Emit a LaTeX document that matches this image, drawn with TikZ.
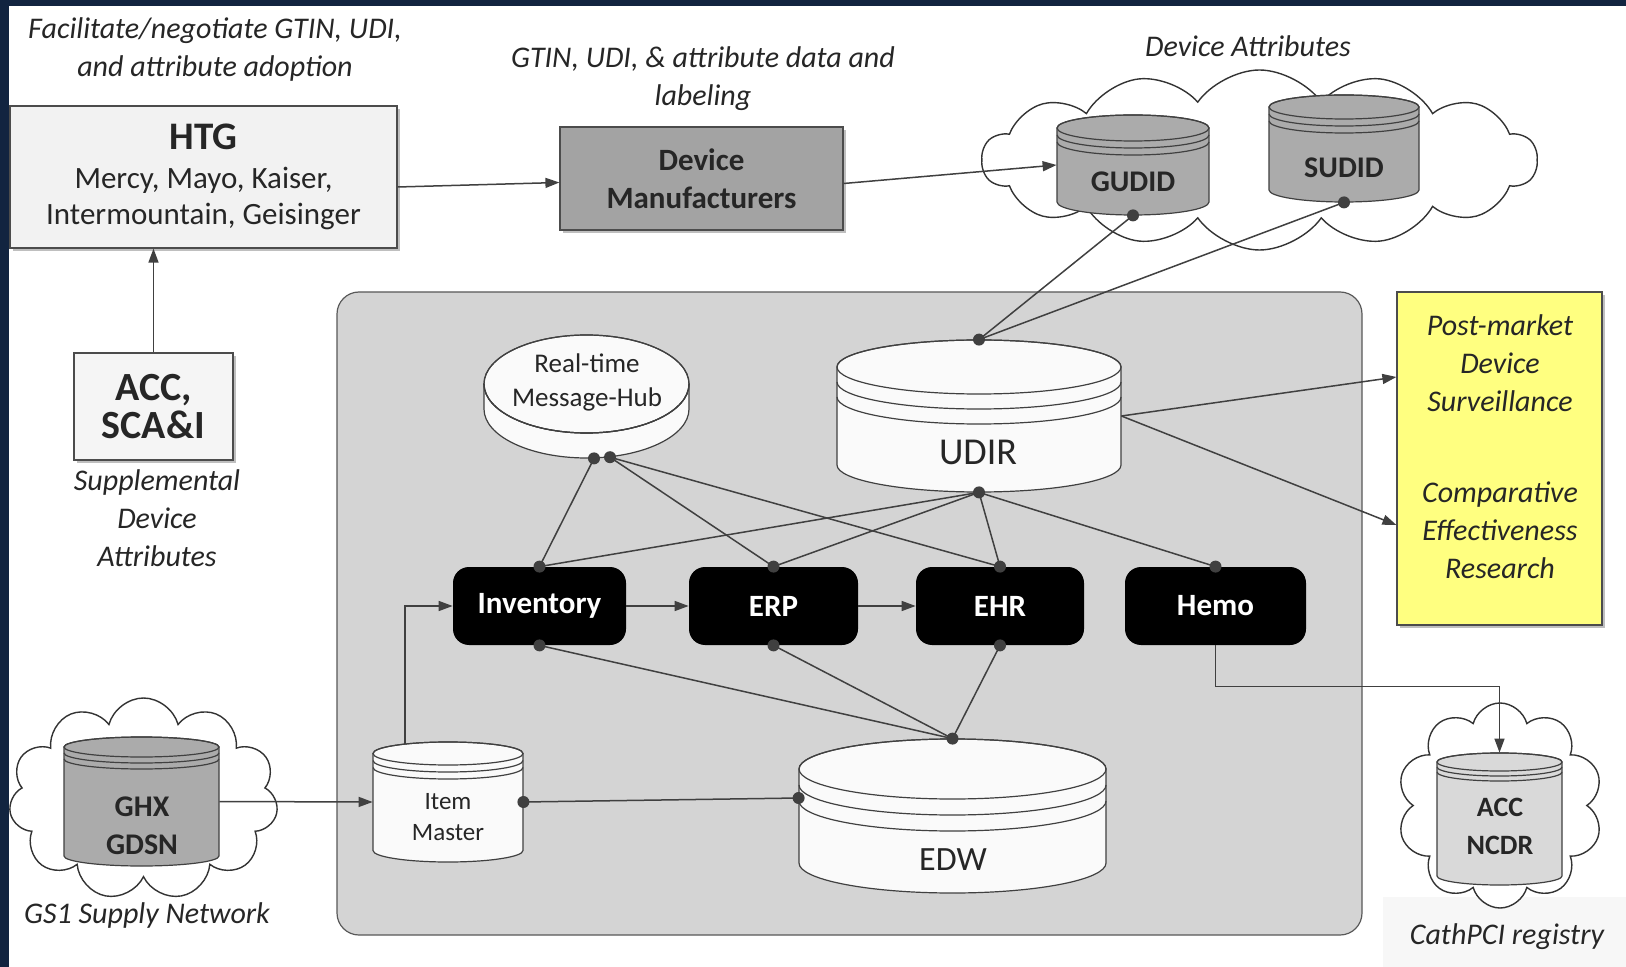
\documentclass[tikz,border=0pt]{standalone}
\usepackage{fontspec}
\setmainfont{Carlito}
\usetikzlibrary{arrows.meta,shapes.symbols,shadows,positioning,calc}

\definecolor{navy}{RGB}{18,36,64}
\definecolor{hospgray}{RGB}{212,212,212}
\definecolor{stickynote}{RGB}{255,255,128}
\definecolor{linec}{RGB}{64,64,64}

% database drum: name, cx, top y, half width, height, ry, band gap, fill
\newcommand\dbcyl[8]{%
  \begin{scope}[shift={(#2,-#3)}]
    \filldraw[fill=#8,draw=black!75,line width=0.6pt]
      (-#4,-#6) -- (-#4,{-#5+#6})
      arc[start angle=180,end angle=360,x radius=#4,y radius=#6]
      -- (#4,-#6)
      arc[start angle=0,end angle=180,x radius=#4,y radius=#6] -- cycle;
    \draw[black!75,line width=0.6pt] (0,-#6) ellipse[x radius=#4,y radius=#6];
    \foreach \g in {1,2}
      \draw[black!75,line width=0.6pt] (-#4,{-#6-\g*#7})
        arc[start angle=180,end angle=360,x radius=#4,y radius=#6];
    \node[inner sep=0,minimum width=#4pt,minimum height={#5*0.5pt}] (#1) at (0,{-#5/2}) {};
  \end{scope}}

\begin{document}
\begin{tikzpicture}[x=0.5pt,y=0.5pt,
  every node/.style={text=black!85},
  note/.style={font=\itshape\fontsize{15}{19}\selectfont,align=center},
  box/.style={draw=black!70,line width=0.6pt,align=center,inner sep=0,
    drop shadow={shadow xshift=1.5pt,shadow yshift=-1.5pt,opacity=.5}},
  app/.style={fill=black,rounded corners=8pt,text=white,
    font=\bfseries\fontsize{15.5}{18}\selectfont,minimum height=39pt,inner sep=0},
  conn/.style={linec,line width=0.75pt},
  arr/.style={conn,-{Triangle[length=7pt,width=5pt]}},
  puff/.style={cloud,cloud ignores aspect,draw=black!80,fill=white,line width=0.7pt,inner sep=0}]

  % page
  \useasboundingbox (0,0) rectangle (1626,-967);
  \fill[white] (0,0) rectangle (1626,-967);
  \fill[navy] (0,0) rectangle (9,-967);
  \fill[navy] (0,0) rectangle (1626,-6);
  \fill[black!3] (1383,-897) rectangle (1626,-967);

  % clouds
  \node[puff,cloud puffs=14,cloud puff arc=110,minimum width=277.5pt,minimum height=90pt] (attrcloud) at (1259.5,-160) {};
  \node[puff,cloud puffs=11,minimum width=134.5pt,minimum height=101pt] (gs1cloud) at (143.5,-799) {};
  \node[puff,cloud puffs=10,minimum width=103pt,minimum height=102.5pt] (ncdrcloud) at (1500,-805.5) {};

  % hospital
  \draw[fill=hospgray,draw=black!65,line width=0.6pt,rounded corners=11pt] (337,-292) rectangle (1362,-935);

  % boxes
  \node[box,fill=black!5,minimum width=193.5pt,minimum height=71pt,font=\fontsize{15.5}{18}\selectfont] (htg) at (203.5,-177)
    {{\bfseries\fontsize{19.5}{20}\selectfont HTG}\\[1.5pt]Mercy, Mayo, Kaiser,\\Intermountain, Geisinger};
  \node[box,fill=black!36,minimum width=141.5pt,minimum height=51.5pt,font=\bfseries\fontsize{15.5}{19}\selectfont] (dm) at (701.5,-178.5)
    {Device\\Manufacturers};
  \node[box,fill=black!4,minimum width=79.5pt,minimum height=53.5pt,font=\bfseries\fontsize{20}{19}\selectfont] (sca) at (153.5,-406.5)
    {ACC,\\SCA\&I};
  \node[box,fill=stickynote,minimum width=102.5pt,minimum height=166.5pt] (research) at (1499.5,-458.5) {};

  % notes
  \node[note] (facil) at (215,-50) {Facilitate/negotiate GTIN, UDI,\\and attribute adoption};
  \node[note] (label) at (703,-79) {GTIN, UDI, \& attribute data and\\labeling};
  \node[note] (attr) at (1248,-46) {Device Attributes};
  \node[note] (suppl) at (157,-518) {Supplemental\\Device\\Attributes};
  \node[note] (gs1) at (147,-915) {GS1 Supply Network};
  \node[note] (cath) at (1507,-937) {CathPCI registry};
  \node[note] (pms) at (1500,-363) {Post-market\\Device\\Surveillance};
  \node[note] (cer) at (1500,-530) {Comparative\\Effectiveness\\Research};

  % applications
  \node[app,minimum width=86.5pt] (inv) at (539.5,-606) {Inventory};
  \node[app,minimum width=84.5pt] (erp) at (773.5,-606) {ERP};
  \node[app,minimum width=84pt] (ehr) at (1000,-606) {EHR};
  \node[app,minimum width=90.5pt] (hemo) at (1215.5,-606) {Hemo};

  % databases
  \dbcyl{gudid}{1133}{115}{76}{100}{13}{7}{black!33}
  \dbcyl{sudid}{1344}{95}{75}{107}{12}{7}{black!33}
  \dbcyl{hub}{586.5}{335}{102.5}{123}{49}{0}{black!2}
  \dbcyl{udir}{979}{340}{142}{152}{27}{15}{black!2}
  \dbcyl{edw}{952.5}{739}{153.5}{154}{30}{16}{black!2}
  \dbcyl{item}{448}{742}{75}{120}{11.5}{7}{black!2}
  \dbcyl{ghx}{141.5}{737}{77.5}{129}{10}{6}{black!33}
  \dbcyl{ncdr}{1499.5}{753}{62.5}{132}{9}{5}{black!15}

  \node[font=\bfseries\fontsize{15}{19}\selectfont] (gudidlbl) at (1133,-182) {GUDID};
  \node[font=\bfseries\fontsize{15}{19}\selectfont] (sudidlbl) at (1344,-168) {SUDID};
  \node[font=\fontsize{13.5}{17}\selectfont,align=center] (hublbl) at (587,-382) {Real-time\\Message-Hub};
  \node[font=\fontsize{19}{20}\selectfont] (udirlbl) at (978,-452) {UDIR};
  \node[font=\fontsize{17}{20}\selectfont] (edwlbl) at (953,-860) {EDW};
  \node[font=\fontsize{12.5}{15.5}\selectfont,align=center] (itemlbl) at (448,-817) {Item\\Master};
  \node[font=\bfseries\fontsize{15}{19}\selectfont,align=center] (ghxlbl) at (142,-826) {GHX\\GDSN};
  \node[font=\bfseries\fontsize{14}{19}\selectfont,align=center] (ncdrlbl) at (1500,-826) {ACC\\NCDR};

  % flows
  \draw[arr] ([yshift=-5pt]htg.east) -- ([yshift=-2pt]dm.west);
  \draw[arr] ([yshift=-2.5pt]dm.east) -- (gudid.west);
  \draw[arr] (sca.north) -- (sca.north |- htg.south);
  \draw[arr] (ghx.east) -- (item.west);
  \draw[arr] ([xshift=-21.5pt,yshift=-1pt]item.north) |- (inv.west);
  \draw[arr] (inv) -- (erp);
  \draw[arr] (erp) -- (ehr);
  \draw[arr] (hemo.south) -- ++(0,-41) -| (ncdr.north);
  \draw[arr] (udir.east) -- ([yshift=40.75pt]research.west);
  \draw[arr] (udir.east) -- ([yshift=-33.25pt]research.west);

  % links
  \coordinate (hubA) at ([xshift=3.75pt]hub.south);
  \coordinate (hubB) at ([xshift=11.75pt,yshift=0.6pt]hub.south);
  \coordinate (edwW) at ([yshift=9pt]edw.west);
  \draw[conn] (hubA) -- (inv.north);
  \draw[conn] (hubB) -- (erp.north);
  \draw[conn] (hubB) -- (ehr.north);
  \foreach \t in {inv,erp,ehr,hemo}
    \draw[conn] (udir.south) -- (\t.north);
  \draw[conn] (udir.north) -- (gudid.south);
  \draw[conn] (udir.north) -- (sudid.south);
  \foreach \t in {inv,erp,ehr}
    \draw[conn] (\t.south) -- (edw.north);
  \draw[conn] (item.east) -- (edwW);
  \foreach \p in {hubA,hubB,inv.north,erp.north,ehr.north,hemo.north,udir.south,udir.north,
      gudid.south,sudid.south,inv.south,erp.south,ehr.south,edw.north,item.east,edwW}
    \fill[linec] (\p) circle[radius=6];
\end{tikzpicture}
\end{document}
